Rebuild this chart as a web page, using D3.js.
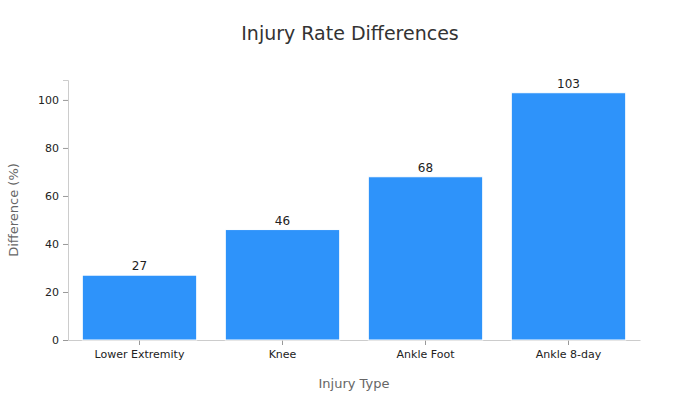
<!DOCTYPE html>
<html><head><meta charset="utf-8">
<script src="https://cdn.jsdelivr.net/npm/d3@7"></script>
<style>body{margin:0;background:#fff}text{font-family:"DejaVu Sans",sans-serif}</style>
</head><body><svg id="c" width="700" height="400"></svg>
<script>
const categories = ["Lower Extremity","Knee","Ankle Foot","Ankle 8-day"];
const values = [27,46,68,103];
const yTicks = [0,20,40,60,80,100];

const svg = d3.select("#c");
const m = {l:68, r:640, t:80, b:340};
const x = d3.scaleBand().domain(categories).range([m.l,m.r]).paddingInner(0.2).paddingOuter(0.1);
const y = d3.scaleLinear().domain([0,108.3]).range([m.b,m.t]);

svg.append("text").attr("x",350).attr("y",40).attr("text-anchor","middle")
  .attr("font-size",19).attr("fill","#333").text("Injury Rate Differences");

const ya = svg.append("g").attr("transform",`translate(${m.l},0)`)
  .call(d3.axisLeft(y).tickValues(yTicks).tickSize(5).tickPadding(4));
ya.select(".domain").attr("stroke","#ccc");
ya.selectAll(".tick line").attr("stroke","#999");
ya.selectAll(".tick text").attr("font-size",11).attr("fill","#222").style("font-family","DejaVu Sans");

const xa = svg.append("g").attr("transform",`translate(0,${m.b})`)
  .call(d3.axisBottom(x).tickSize(5).tickSizeOuter(0).tickPadding(5));
xa.select(".domain").attr("stroke","#ccc");
xa.selectAll(".tick line").attr("stroke","#999");
xa.selectAll(".tick text").attr("font-size",11).attr("fill","#222").style("font-family","DejaVu Sans");

svg.selectAll("rect.bar").data(values).enter().append("rect").attr("class","bar")
  .attr("x",(d,i)=>x(categories[i])).attr("width",x.bandwidth())
  .attr("y",d=>y(d)).attr("height",d=>y(0)-y(d))
  .attr("fill","#2e93fa").attr("stroke","#fff").attr("stroke-width",1);

svg.selectAll("text.lbl").data(values).enter().append("text").attr("class","lbl")
  .attr("x",(d,i)=>x(categories[i])+x.bandwidth()/2).attr("y",d=>y(d)-5)
  .attr("text-anchor","middle").attr("font-size",12).attr("fill","#222").text(d=>d);

svg.append("text").attr("x",354).attr("y",388).attr("text-anchor","middle")
  .attr("font-size",13).attr("fill","#666").text("Injury Type");
svg.append("text").attr("transform","translate(18,210) rotate(-90)").attr("text-anchor","middle")
  .attr("font-size",13).attr("fill","#666").text("Difference (%)");
</script></body></html>
